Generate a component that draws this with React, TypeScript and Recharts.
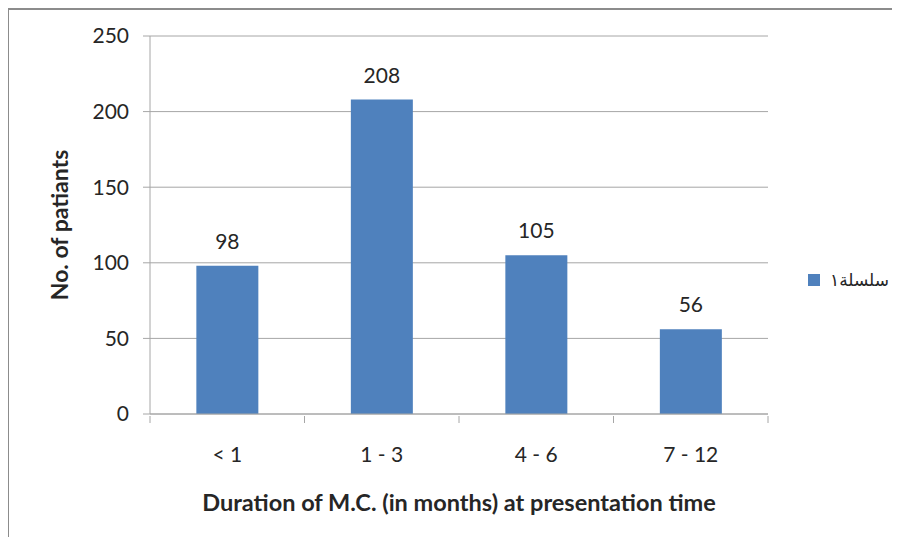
import { BarChart, Bar, XAxis, YAxis, CartesianGrid, LabelList, Legend } from 'recharts'

const categories = ['< 1', '1 - 3', '4 - 6', '7 - 12']
const patients = [98, 208, 105, 56]
const yTicks = [0, 50, 100, 150, 200, 250]
const seriesName = 'سلسلة١'

const data = categories.map((duration, i) => ({ duration, patients: patients[i] }))

const FONT = 'Lato, "Open Sans", sans-serif'
const LINE = '#a6a6a6'
const TEXT = '#262626'

const CategoryTick = (props: any) => {
   const { x, y, payload, index, visibleTicksCount } = props
   const half = payload?.offset ?? 0
   return (
      <g>
         <line x1={ x - half } x2={ x - half } y1={ y } y2={ y + 7 } stroke={ LINE } />
         { index === visibleTicksCount - 1 && (
            <line x1={ x + half } x2={ x + half } y1={ y } y2={ y + 7 } stroke={ LINE } />
         ) }
         <text x={ x } y={ y + 37 } textAnchor="middle" dominantBaseline="central"
            fontFamily={ FONT } fontSize={ 21 } fill={ TEXT }>
            { payload.value }
         </text>
      </g>
   )
}

const LegendBox = () => (
   <div style={ { display: 'flex', alignItems: 'center', gap: 10 } }>
      <span style={ { width: 12, height: 12, background: '#4f81bd', display: 'inline-block' } } />
      <span style={ { fontFamily: '"DejaVu Sans", sans-serif', fontSize: 17, color: TEXT } }>{ seriesName }</span>
   </div>
)

export default function App() {
   return (
      <div style={ { position: 'relative', width: 893, height: 529, boxSizing: 'border-box', marginLeft: -1,
         borderTop: '2px solid #8c8c8c', borderLeft: '2px solid #8c8c8c' } }>
         <div style={ { position: 'absolute', left: -1, top: -2 } }>
            <BarChart width={ 884 } height={ 529 } data={ data }
               margin={ { top: 28, right: 40, bottom: 0, left: 0 } } barCategoryGap="30%">
               <CartesianGrid vertical={ false } stroke={ LINE } />
               <XAxis dataKey="duration" height={ 123 } tickSize={ 0 } axisLine={ { stroke: LINE } }
                  tick={ <CategoryTick /> } interval={ 0 }
                  label={ { value: 'Duration of M.C. (in months) at presentation time', position: 'insideBottom',
                     offset: 26, fontFamily: FONT, fontSize: 23.5, fontWeight: 700, fill: TEXT } } />
               <YAxis width={ 142 } domain={ [0, 250] } ticks={ yTicks } tickSize={ 7 } tickMargin={ 14 }
                  axisLine={ { stroke: LINE } } tickLine={ { stroke: LINE } }
                  tick={ { fontFamily: FONT, fontSize: 21, fill: TEXT } }
                  label={ { value: 'No. of patiants', angle: -90, position: 'insideLeft', offset: 52,
                     style: { textAnchor: 'middle' }, fontFamily: FONT, fontSize: 23, fontWeight: 700, fill: TEXT } } />
               <Legend content={ <LegendBox /> } layout="vertical" align="right" verticalAlign="middle"
                  wrapperStyle={ { position: 'absolute', left: 800, top: 262, width: 84 } } />
               <Bar dataKey="patients" name={ seriesName } fill="#4f81bd" isAnimationActive={ false }>
                  <LabelList dataKey="patients" position="top" offset={ 17 }
                     fontFamily={ FONT } fontSize={ 21 } fill={ TEXT } />
               </Bar>
            </BarChart>
         </div>
      </div>
   )
}
